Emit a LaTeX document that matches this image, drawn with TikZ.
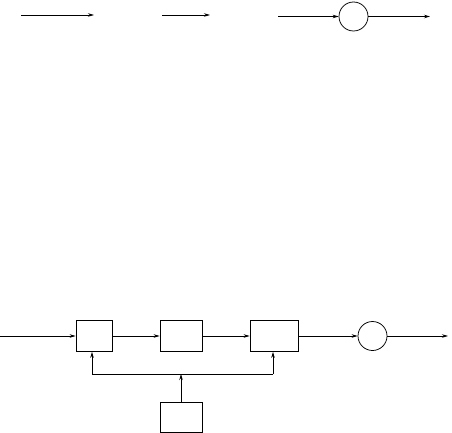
\documentclass[tikz,border=0pt]{standalone}
\usetikzlibrary{arrows.meta}
\begin{document}
\begin{tikzpicture}[x=1pt,y=-1pt,
  line width=0.75pt,
  arr/.style={-{Stealth[length=6pt,width=3.5pt]}},
  blk/.style={draw,rectangle,inner sep=0pt,minimum height=31pt},
  junc/.style={draw,circle,inner sep=0pt,minimum size=29pt}]
\useasboundingbox (0,0) rectangle (452,433);
% top row
\coordinate (a1s) at (21,15);
\coordinate (a1e) at (94,15);
\coordinate (a2s) at (162,15);
\coordinate (a2e) at (210,15);
\coordinate (a3s) at (278,16.5);
\node[junc] (c1) at (353.5,16.5) {};
\coordinate (a3e) at (430,16.5);
\draw[arr] (a1s) -- (a1e);
\draw[arr] (a2s) -- (a2e);
\draw[arr] (a3s) -- (c1);
\draw[arr] (c1) -- (a3e);
% bottom row
\coordinate (in) at (0,336);
\node[blk,minimum width=36pt] (b1) at (94,336) {};
\node[blk,minimum width=42pt] (b2) at (181,336) {};
\node[blk,minimum width=48pt] (b3) at (274,336) {};
\node[junc] (c2) at (372.5,336) {};
\coordinate (out) at (448,336);
\node[blk,minimum width=42pt,minimum height=30pt] (b4) at (181,417) {};
\draw[arr] (in) -- (b1.west);
\draw[arr] (b1.east) -- (b2.west);
\draw[arr] (b2.east) -- (b3.west);
\draw[arr] (b3.east) -- (c2);
\draw[arr] (c2) -- (out);
% feedback
\coordinate (fb) at (181,374);
\coordinate (fbL) at (92,374);
\coordinate (fbR) at (273,374);
\draw[arr] (b4.north) -- (fb);
\draw (fbL) -- (fbR);
\draw[arr] (fbL) -- (fbL |- b1.south);
\draw[arr] (fbR) -- (fbR |- b3.south);
\end{tikzpicture}
\end{document}
